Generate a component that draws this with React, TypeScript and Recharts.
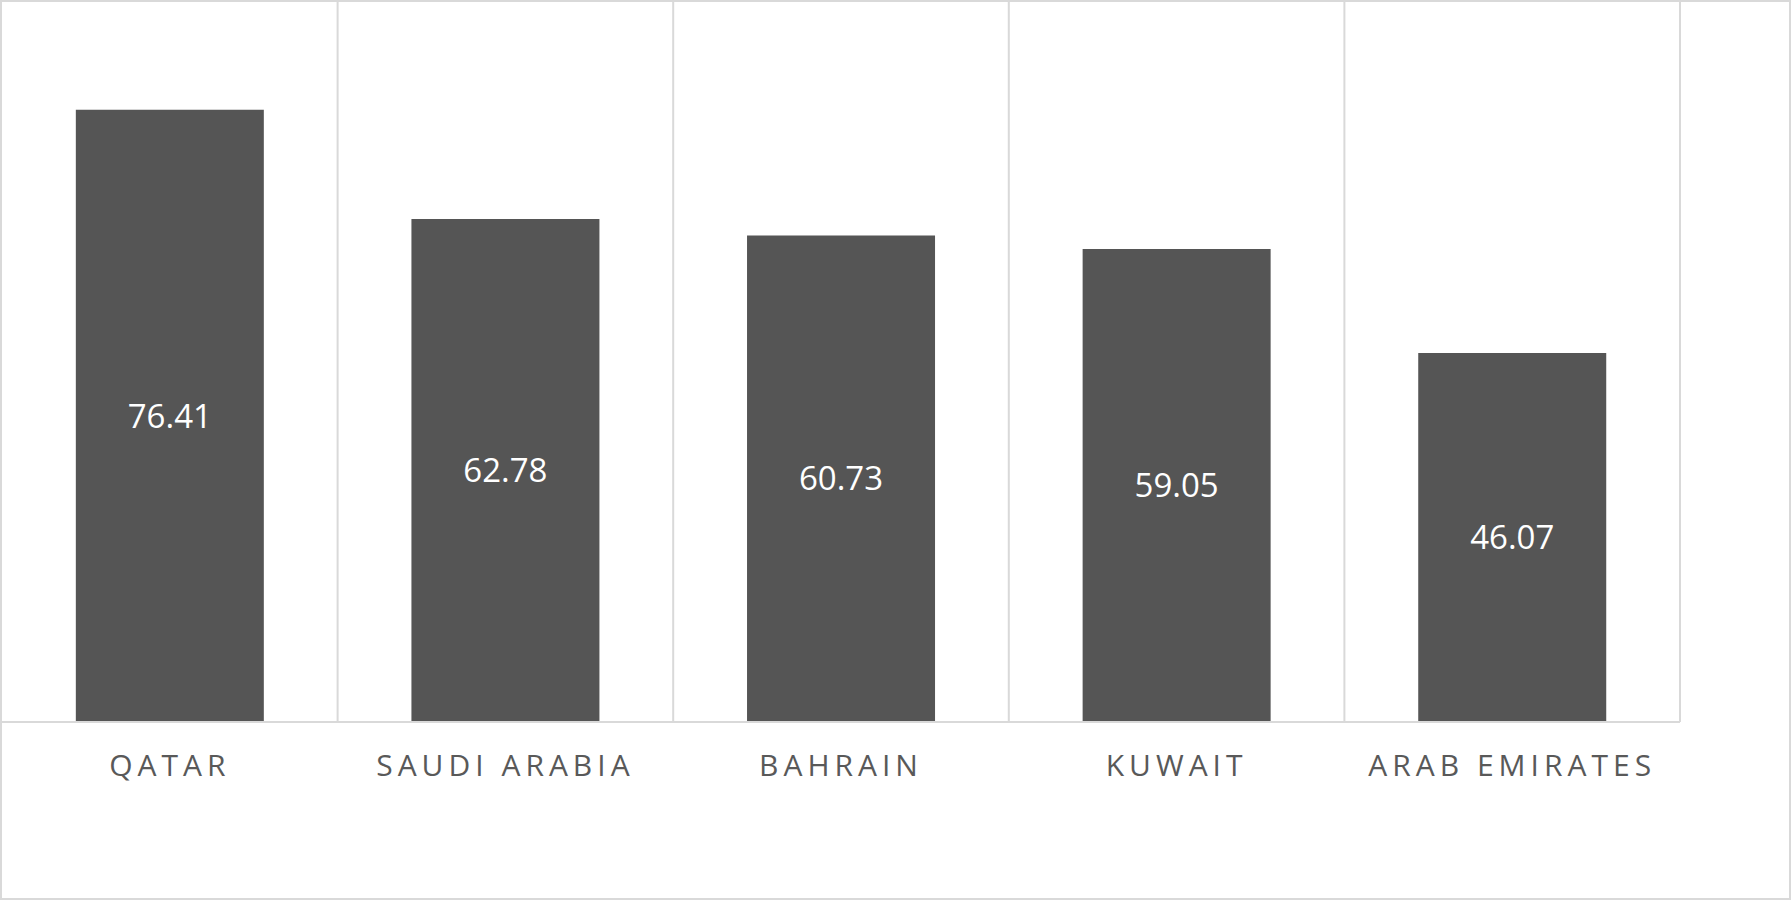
import { Bar, BarChart, CartesianGrid, LabelList, XAxis, YAxis } from "recharts";

const countries = ["QATAR", "SAUDI ARABIA", "BAHRAIN", "KUWAIT", "ARAB EMIRATES"];
const scores = [76.41, 62.78, 60.73, 59.05, 46.07];

const data = countries.map((country, i) => ({ country, value: scores[i] }));

const font = "'Open Sans', sans-serif";

function CountryTick(props: any) {
  const { x, y, payload } = props;
  return (
    <text
      x={x}
      y={y}
      dy={46}
      textAnchor="middle"
      fill="#595959"
      fontSize={30}
      fontFamily={font}
      letterSpacing={5}
    >
      {payload.value}
    </text>
  );
}

export default function App() {
  return (
    <div
      style={{
        position: "absolute",
        left: 0,
        top: 0,
        width: 1791,
        height: 900,
        background: "#fff",
      }}
    >
      <div
        style={{
          position: "absolute",
          inset: 0,
          border: "2px solid #d9d9d9",
          boxSizing: "border-box",
        }}
      />
      <div style={{ position: "absolute", left: 0, top: 0 }}>
        <BarChart
          width={1791}
          height={900}
          data={data}
          margin={{ top: 1, right: 111, left: 2, bottom: 0 }}
          barCategoryGap="22%"
        >
          <CartesianGrid
            horizontal={false}
            stroke="#d9d9d9"
            strokeWidth={2}
            verticalCoordinatesGenerator={({ offset }: any) =>
              countries.map((_, i) => offset.left + ((i + 1) * offset.width) / countries.length)
            }
          />
          <XAxis
            dataKey="country"
            height={178}
            tickLine={false}
            axisLine={{ stroke: "#d9d9d9", strokeWidth: 2 }}
            tick={<CountryTick />}
            interval={0}
          />
          <YAxis hide domain={[0, 90]} />
          <Bar dataKey="value" fill="#555555" isAnimationActive={false}>
            <LabelList
              dataKey="value"
              position="center"
              fill="#ffffff"
              fontSize={33}
              fontFamily={font}
              formatter={(v: any) => Number(v).toFixed(2)}
            />
          </Bar>
        </BarChart>
      </div>
    </div>
  );
}
